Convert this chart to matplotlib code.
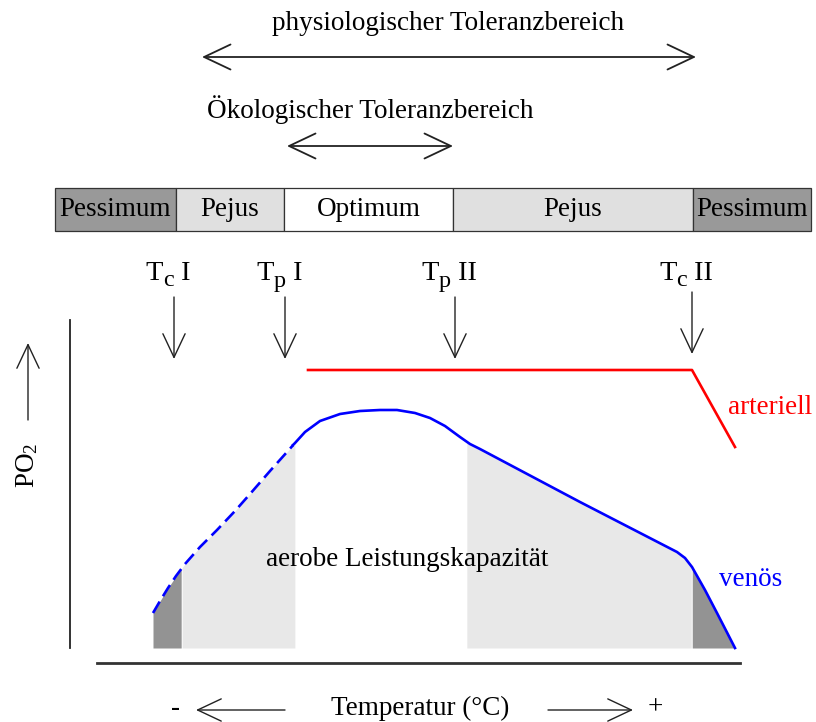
import numpy as np
import matplotlib.pyplot as plt

plt.rcParams['font.family'] = ['Liberation Serif', 'DejaVu Serif']
plt.rcParams['mathtext.fontset'] = 'custom'
plt.rcParams['mathtext.rm'] = 'Liberation Serif'
plt.rcParams['mathtext.it'] = 'Liberation Serif'

# ---- schematic data (drawing units: x = temperature axis, y = downward page units) ----
zone_edges = [55, 176, 284, 453, 693, 811]
zone_labels = ['Pessimum', 'Pejus', 'Optimum', 'Pejus', 'Pessimum']
zone_colors = ['#999999', '#e0e0e0', '#ffffff', '#e0e0e0', '#999999']

thresh_x = [174, 285, 455, 692]
thresh_sub = ['c', 'p', 'p', 'c']
thresh_num = ['I', 'I', 'II', 'II']

# venous PO2 curve
ven_x = [153, 160, 168, 176, 185, 200, 217, 235, 250, 270, 287, 295, 305, 320,
         340, 360, 380, 397, 415, 430, 445, 460, 470, 480, 580, 677, 685, 692,
         705, 717, 735]
ven_y = [613, 601, 588, 576, 564, 547, 530, 511, 494, 471, 452, 443, 432, 421,
         414, 411, 410, 410, 413, 418, 426, 437, 444, 449, 502, 552, 558, 567,
         590, 613, 648]
dash_end = 293

# arterial PO2 line
art_x = [308, 692, 735]
art_y = [370, 370, 447]

# shaded capacity zones under the venous curve
shade_edges = [153, 182, 295, 466, 692, 735]
shade_colors = ['#939393', '#e8e8e8', None, '#e8e8e8', '#939393']
base_y = 648

FS = 19.5

fig = plt.figure(figsize=(8.16, 7.22), dpi=100)
ax = fig.add_axes([0, 0, 1, 1])
ax.set_xlim(0, 816)
ax.set_ylim(722, 0)
ax.axis('off')
renderer = fig.canvas.get_renderer()


def arrow(x0, y0, x1, y1, style='->', lw=1.0, hl=0.95, hw=0.45):
    ax.annotate('', xy=(x1, y1), xytext=(x0, y0),
                arrowprops=dict(arrowstyle=f'{style},head_length={hl},head_width={hw}',
                                color='#222222', lw=lw, mutation_scale=20,
                                shrinkA=0, shrinkB=0))


def sub_label(xc, y, sub, num):
    # "T" + large lowered subscript + roman numeral, centred on xc
    parts = [('T', FS + 1, 0), (sub, FS - 2, 8), (' ' + num, FS + 1, 0)]
    texts = [ax.text(0, y + dy, s, fontsize=f, ha='left', va='center') for s, f, dy in parts]
    widths = [t.get_window_extent(renderer).width for t in texts]
    x = xc - sum(widths) / 2
    for t, w in zip(texts, widths):
        t.set_x(x)
        x += w


# tolerance ranges
ax.text(448, 24, 'physiologischer Toleranzbereich', ha='center', va='center', fontsize=FS)
arrow(202, 57, 696, 57, '<->', lw=1.3)
ax.text(370, 110, 'Ökologischer Toleranzbereich', ha='center', va='center', fontsize=FS)
arrow(287, 146, 453, 146, '<->', lw=1.3)

# zone bar
for i, lab in enumerate(zone_labels):
    x0, x1 = zone_edges[i], zone_edges[i + 1]
    ax.add_patch(plt.Rectangle((x0, 188), x1 - x0, 43, facecolor=zone_colors[i],
                               edgecolor='#333333', lw=0.9))
    ax.text((x0 + x1) / 2, 210, lab, ha='center', va='center', fontsize=FS)

# threshold arrows
for i, tx in enumerate(thresh_x):
    top = 292 if i == 3 else 297
    sub_label(tx - 6, 273, thresh_sub[i], thresh_num[i])
    arrow(tx, top, tx, top + 62, '->', lw=1.0, hl=0.85, hw=0.4)

# shading under venous curve
xx = np.linspace(shade_edges[0], shade_edges[-1], 600)
yy = np.interp(xx, ven_x, ven_y)
for i, c in enumerate(shade_colors):
    if c is None:
        continue
    m = (xx >= shade_edges[i]) & (xx <= shade_edges[i + 1])
    ax.fill_between(xx[m], yy[m], base_y, color=c, lw=0)

# venous curve: dashed left part, solid rest
vx = np.array(ven_x)
vy = np.array(ven_y)
dm = vx <= dash_end
yd = np.interp(dash_end, vx, vy)
ax.plot(np.append(vx[dm], dash_end), np.append(vy[dm], yd),
        color='#0000ff', lw=1.9, dashes=(5, 2.4))
ax.plot(np.insert(vx[~dm], 0, dash_end), np.insert(vy[~dm], 0, yd),
        color='#0000ff', lw=1.9)

# arterial line
ax.plot(art_x, art_y, color='#ff0000', lw=1.9)

ax.text(770, 408, 'arteriell', ha='center', va='center', fontsize=FS, color='#ff0000')
ax.text(751, 580, 'venös', ha='center', va='center', fontsize=FS, color='#0000ff')
ax.text(407, 559, 'aerobe Leistungskapazität', ha='center', va='center', fontsize=FS)

# axes lines
ax.plot([70, 70], [320, 648], color='#222222', lw=1.3)
ax.plot([97, 740], [663, 663], color='#333333', lw=2)

# y label
ax.text(27, 465, r'PO$_2$', rotation=90, ha='center', va='center', fontsize=FS)
arrow(28, 420, 28, 343, '->', lw=1.0, hl=0.85, hw=0.4)

# x label
ax.text(175, 708, '-', ha='center', va='center', fontsize=FS)
arrow(285, 710, 196, 710, '->', lw=1.0, hl=0.85, hw=0.4)
ax.text(420, 708, 'Temperatur (°C)', ha='center', va='center', fontsize=FS)
arrow(548, 710, 633, 710, '->', lw=1.0, hl=0.85, hw=0.4)
ax.text(655, 708, '+', ha='center', va='center', fontsize=FS)

fig.savefig('out.png', dpi=100)
